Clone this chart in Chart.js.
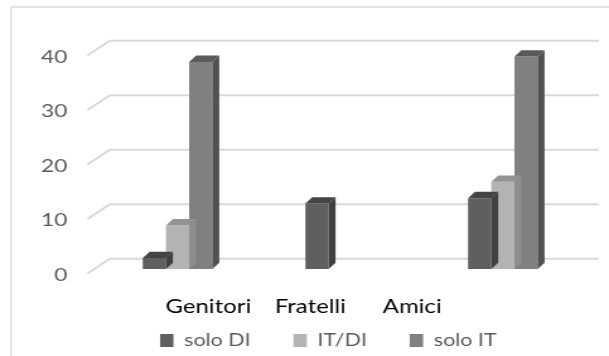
<!DOCTYPE html>
<html>
<head>
<meta charset="utf-8">
<script src="https://cdn.jsdelivr.net/npm/chart.js@4/dist/chart.umd.min.js"></script>
<style>
  html, body { margin: 0; padding: 0; background: #ffffff; overflow: hidden; }
  /* the chart is laid out narrow and widened horizontally */
  #wrap { position: absolute; left: 0; top: 0; width: 483px; height: 356px;
          transform: scaleX(1.2609); transform-origin: 0 0; }
</style>
</head>
<body>
<div id="wrap"><canvas id="chart"></canvas></div>
<script>
// Categories and series values
const categories = ['Genitori', 'Fratelli', 'Amici'];
const soloDI = [2, 12, 13];
const itDI = [8, 0, 16];
const soloIT = [38, 0, 39];
const yTicks = [0, 10, 20, 30, 40];

// front / side / top shades for each series
const shades = {
  'solo DI': { front: '#5f5f5f', side: '#404040', top: '#444444' },
  'IT/DI':   { front: '#b3b3b3', side: '#8e8e8e', top: '#939393' },
  'solo IT': { front: '#808080', side: '#515151', top: '#5a5a5a' }
};

// depth of the bars and of the back wall
const BAR_DX = 5.5, BAR_DY = 6.3;
const WALL_DX = 10.8, WALL_DY = 10.3;
const FLOOR_DX = -6.3, FLOOR_DY = 4;

const framePlugin = {
  id: 'frame',
  beforeDraw(chart) {
    const ctx = chart.ctx;
    ctx.save();
    ctx.strokeStyle = '#d9d9d9';
    ctx.lineWidth = 1.6;
    ctx.beginPath();
    ctx.moveTo(8.7, 7); ctx.lineTo(chart.width + 2, 7);
    ctx.stroke();
    ctx.lineWidth = 1.2;
    ctx.beginPath();
    ctx.moveTo(8.7, 7); ctx.lineTo(8.7, chart.height + 2);
    ctx.stroke();
    ctx.restore();
  }
};

// back-wall gridlines with the slanted floor edge on the left
const wallGridPlugin = {
  id: 'wallGrid',
  beforeDatasetsDraw(chart) {
    const {ctx, chartArea} = chart;
    const ys = chart.scales.y;
    ctx.save();
    ctx.strokeStyle = '#d9d9d9';
    ctx.lineWidth = 2;
    ctx.lineCap = 'round';
    ys.ticks.forEach(t => {
      const yf = ys.getPixelForValue(t.value);
      ctx.beginPath();
      ctx.moveTo(chartArea.left + FLOOR_DX, yf + FLOOR_DY);
      ctx.lineTo(chartArea.left + WALL_DX, yf - WALL_DY);
      ctx.lineTo(chartArea.right + WALL_DX, yf - WALL_DY);
      ctx.stroke();
    });
    ctx.restore();
  }
};

// side and top faces of each bar, drawn right after its dataset
const bar3dPlugin = {
  id: 'bar3d',
  afterDatasetDraw(chart, args) {
    const ctx = chart.ctx;
    const ds = chart.data.datasets[args.index];
    const sh = shades[ds.label];
    ctx.save();
    args.meta.data.forEach((bar, i) => {
      if (!ds.data[i]) return;
      const p = bar.getProps(['x', 'y', 'base', 'width'], true);
      const l = p.x - p.width / 2, r = p.x + p.width / 2;
      ctx.fillStyle = sh.side;
      ctx.beginPath();
      ctx.moveTo(r, p.y); ctx.lineTo(r + BAR_DX, p.y - BAR_DY);
      ctx.lineTo(r + BAR_DX, p.base - BAR_DY); ctx.lineTo(r, p.base);
      ctx.closePath(); ctx.fill();
      ctx.fillStyle = sh.top;
      ctx.beginPath();
      ctx.moveTo(l, p.y); ctx.lineTo(l + BAR_DX, p.y - BAR_DY);
      ctx.lineTo(r + BAR_DX, p.y - BAR_DY); ctx.lineTo(r, p.y);
      ctx.closePath(); ctx.fill();
    });
    ctx.restore();
  }
};

const series = [
  ['solo DI', soloDI],
  ['IT/DI', itDI],
  ['solo IT', soloIT]
];

new Chart(document.getElementById('chart'), {
  type: 'bar',
  data: {
    labels: categories,
    datasets: series.map(([name, values]) => ({
      label: name,
      data: values,
      backgroundColor: shades[name].front,
      borderWidth: 0,
      categoryPercentage: 0.428,
      barPercentage: 1.0
    }))
  },
  options: {
    responsive: true,
    maintainAspectRatio: false,
    animation: false,
    events: [],
    layout: { padding: { top: 51, left: 31, right: -6.8, bottom: -3 } },
    scales: {
      x: { display: false },
      // category names under the floor
      xl: {
        type: 'linear',
        position: 'bottom',
        offset: false,
        bounds: 'data',
        min: -1.0996,
        max: 3.687,
        afterBuildTicks(scale) {
          scale.ticks = categories.map((c, i) => ({ value: i }));
        },
        afterFit(scale) { scale.height = 29; },
        ticks: {
          mirror: true,
          padding: -49,
          autoSkip: false,
          color: '#000000',
          font: { family: 'Lato', size: 19 },
          callback: v => categories[v]
        },
        grid: { display: false },
        border: { display: false }
      },
      y: {
        min: 0,
        max: 40,
        afterBuildTicks(scale) {
          scale.ticks = yTicks.map(v => ({ value: v }));
        },
        afterFit(scale) { scale.width = 45.3; },
        ticks: {
          padding: 22.8,
          labelOffset: 6,
          autoSkip: false,
          color: '#595959',
          font: { family: 'Lato', size: 18 }
        },
        grid: { display: false, drawTicks: false },
        border: { display: false }
      },
      // empty strip on the right side of the plot
      edge: {
        type: 'linear',
        position: 'right',
        afterFit(scale) { scale.width = 26.5; },
        ticks: { display: false },
        grid: { display: false },
        border: { display: false }
      }
    },
    plugins: {
      legend: {
        position: 'bottom',
        labels: {
          boxWidth: 10.6,
          boxHeight: 13,
          padding: 34,
          color: '#595959',
          font: { family: 'Lato', size: 17 }
        }
      },
      tooltip: { enabled: false }
    }
  },
  plugins: [framePlugin, wallGridPlugin, bar3dPlugin]
});
</script>
</body>
</html>
